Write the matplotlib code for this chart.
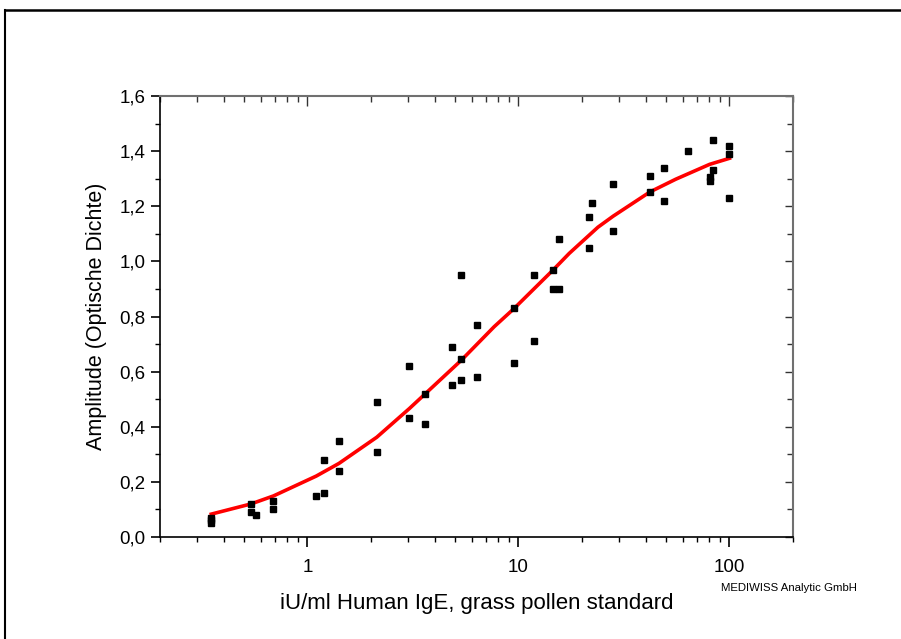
import numpy as np
import matplotlib
matplotlib.use("Agg")
import matplotlib.pyplot as plt
from matplotlib.ticker import FixedLocator, NullFormatter, MultipleLocator, FuncFormatter

plt.rcParams['font.family'] = ['Liberation Sans', 'DejaVu Sans']

# ---------- Messpunkte ----------
conc = [0.35, 0.35, 0.35, 0.54, 0.54, 0.57, 0.69, 0.69,
        1.10, 1.20, 1.20, 1.41, 1.41, 2.13, 2.13, 3.04, 3.04, 3.62, 3.62,
        4.85, 4.85, 5.35, 5.35, 5.35, 6.35, 6.35, 9.5, 9.5, 11.9, 11.9,
        14.6, 14.6, 15.6, 15.6, 21.7, 21.7, 22.4, 28.1, 28.1,
        42.0, 42.0, 48.7, 48.7, 63.8, 80.5, 80.5, 83.8, 83.8,
        100, 100, 100]
od = [0.07, 0.06, 0.05, 0.12, 0.09, 0.08, 0.13, 0.10,
      0.15, 0.16, 0.28, 0.24, 0.35, 0.49, 0.31, 0.62, 0.43, 0.52, 0.41,
      0.69, 0.55, 0.95, 0.645, 0.57, 0.77, 0.58, 0.83, 0.63, 0.95, 0.71,
      0.97, 0.90, 0.90, 1.08, 1.05, 1.16, 1.21, 1.11, 1.28,
      1.31, 1.25, 1.34, 1.22, 1.40, 1.307, 1.29, 1.44, 1.33,
      1.42, 1.39, 1.23]

# ---------- Kalibrierkurve ----------
fit_x = [0.35, 0.54, 0.69, 1.10, 1.41, 2.13, 3.04, 3.62, 5.37, 7.67, 9.5,
         14.6, 17.4, 21.7, 23.8, 28.1, 42.0, 55.6, 80.5, 100]
fit_y = [0.083, 0.12, 0.149, 0.221, 0.267, 0.362, 0.466, 0.52, 0.642, 0.763, 0.828,
         0.969, 1.029, 1.096, 1.124, 1.164, 1.252, 1.298, 1.352, 1.374]

fig = plt.figure(figsize=(9.01, 6.39), dpi=100)
ax = fig.add_axes([160/901, 1-537/639, (793-160)/901, (537-96)/639])

ax.plot(fit_x, fit_y, color='#ff0000', lw=2.6, zorder=2)
ax.plot(conc, od, 's', color='black', ms=4.3, zorder=3)

ax.set_xscale('log')
ax.set_xlim(0.2, 200)
ax.set_ylim(0, 1.6)

ax.xaxis.set_major_locator(FixedLocator([1, 10, 100]))
ax.xaxis.set_major_formatter(FuncFormatter(lambda v, p: f"{v:g}"))
minors = [0.2, 0.3, 0.4, 0.5, 0.6, 0.7, 0.8, 0.9] + [2, 3, 4, 5, 6, 7, 8, 9] + \
         [20, 30, 40, 50, 60, 70, 80, 90] + [200]
ax.xaxis.set_minor_locator(FixedLocator(minors))
ax.xaxis.set_minor_formatter(NullFormatter())

ax.yaxis.set_major_locator(MultipleLocator(0.2))
ax.yaxis.set_minor_locator(MultipleLocator(0.1))
ax.yaxis.set_major_formatter(FuncFormatter(lambda v, p: f"{v:.1f}".replace('.', ',')))

ax.tick_params(which='major', direction='out', length=6.5, width=1.2, labelsize=13.5,
               color='black', pad=4)
ax.tick_params(which='minor', direction='out', length=3.6, width=1.0, color='black')
ax.tick_params(axis='x', which='major', length=7, pad=9)

for s in ['left', 'bottom']:
    ax.spines[s].set_color('black')
    ax.spines[s].set_linewidth(1.2)
for s in ['top', 'right']:
    ax.spines[s].set_color('#707070')
    ax.spines[s].set_linewidth(1.5)

# obere und rechte Achse mit Ticks nach innen
top = ax.secondary_xaxis('top')
top.xaxis.set_major_locator(FixedLocator([1, 10, 100]))
top.xaxis.set_minor_locator(FixedLocator(minors))
top.xaxis.set_major_formatter(NullFormatter())
top.xaxis.set_minor_formatter(NullFormatter())
top.tick_params(which='major', direction='in', length=7, width=1.0, color='#333333')
top.tick_params(which='minor', direction='in', length=4, width=1.0, color='#333333')
top.spines['top'].set_visible(False)

right = ax.secondary_yaxis('right')
right.yaxis.set_major_locator(MultipleLocator(0.2))
right.yaxis.set_minor_locator(MultipleLocator(0.1))
right.yaxis.set_major_formatter(NullFormatter())
right.tick_params(which='major', direction='in', length=6, width=1.0, color='#333333')
right.tick_params(which='minor', direction='in', length=4, width=1.0, color='#333333')
right.spines['right'].set_visible(False)

ax.set_xlabel("iU/ml Human IgE, grass pollen standard", fontsize=16, labelpad=12)
ax.set_ylabel("Amplitude (Optische Dichte)", fontsize=15.5, labelpad=9)

fig.text(789/901, 1-588/639, "MEDIWISS Analytic GmbH", fontsize=8.2, ha='center', va='center')

# äußerer Rahmen
fig.add_artist(plt.Line2D([5/901, 5/901], [0, 1-10/639], color='black', lw=1.5))
fig.add_artist(plt.Line2D([5/901, 1], [1-10/639, 1-10/639], color='black', lw=1.8))

fig.savefig("out.png", dpi=100)
